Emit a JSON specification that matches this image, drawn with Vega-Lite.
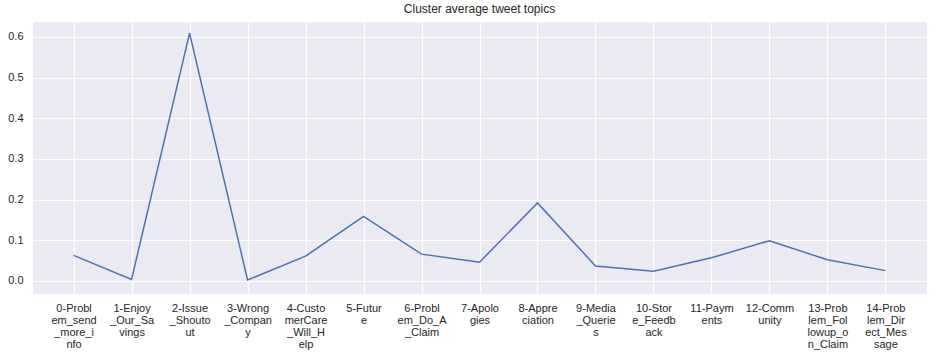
{
  "$schema": "https://vega.github.io/schema/vega-lite/v6.json",
  "autosize": {"type": "none"},
  "width": 893,
  "height": 271,
  "padding": {"left": 33, "top": 22, "right": 12, "bottom": 61},
  "background": "white",
  "view": {"fill": "#EAEAF2", "stroke": "#EAEAF2"},
  "title": {"text": "Cluster average tweet topics", "font": "Liberation Sans", "fontSize": 12, "fontWeight": "normal", "color": "#262626", "offset": 6},
  "data": {"values": [
    {"topic": "0-Problem_send_more_info", "value": 0.063},
    {"topic": "1-Enjoy_Our_Savings", "value": 0.004},
    {"topic": "2-Issue_Shoutout", "value": 0.609},
    {"topic": "3-Wrong_Company", "value": 0.0025},
    {"topic": "4-CustomerCare_Will_Help", "value": 0.061},
    {"topic": "5-Future", "value": 0.159},
    {"topic": "6-Problem_Do_A_Claim", "value": 0.066},
    {"topic": "7-Apologies", "value": 0.046},
    {"topic": "8-Appreciation", "value": 0.192},
    {"topic": "9-Media_Queries", "value": 0.037},
    {"topic": "10-Store_Feedback", "value": 0.024},
    {"topic": "11-Payments", "value": 0.057},
    {"topic": "12-Community", "value": 0.099},
    {"topic": "13-Problem_Followup_on_Claim", "value": 0.052},
    {"topic": "14-Problem_Direct_Message", "value": 0.0255}
  ]},
  "config": {
    "axis": {"labelFont": "Liberation Sans", "labelFontSize": 11, "labelColor": "#262626", "grid": true, "gridColor": "#FFFFFF", "gridWidth": 1.2, "gridOpacity": 1, "domain": false, "ticks": false}
  },
  "mark": {"type": "line", "color": "#4C72B0", "strokeWidth": 1.5},
  "encoding": {
    "x": {
      "field": "topic", "type": "nominal", "sort": null,
      "scale": {"type": "point", "padding": 0.7},
      "axis": {
        "title": null, "labelAngle": 0, "labelPadding": 9, "labelOverlap": false, "labelLimit": 0,
        "labelBaseline": "top", "labelLineHeight": 12, "grid": true,
        "labelExpr": "[substring(datum.label,0,7), substring(datum.label,7,14), substring(datum.label,14,21), substring(datum.label,21,28)]"
      }
    },
    "y": {
      "field": "value", "type": "quantitative",
      "scale": {"domain": [-0.0295, 0.6365], "nice": false, "zero": false},
      "axis": {"title": null, "values": [0, 0.1, 0.2, 0.3, 0.4, 0.5, 0.6], "format": ".1f", "labelPadding": 10, "grid": true}
    }
  }
}
